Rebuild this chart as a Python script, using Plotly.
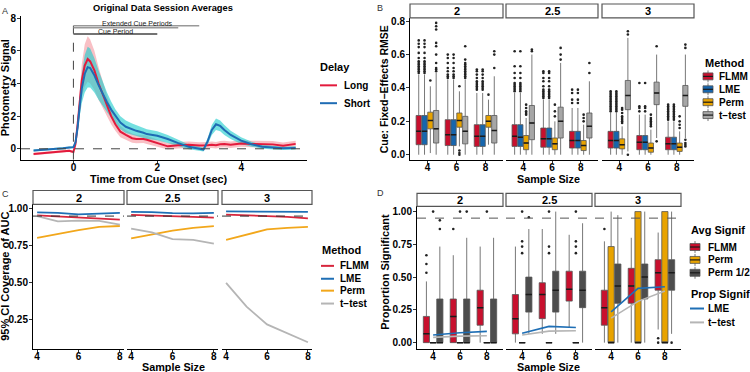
import plotly.graph_objects as go

W, H = 750, 372
FONT = "Liberation Sans, Arial, Helvetica, sans-serif"

# ---------------- Panel A data ----------------
time_s = [-0.95, -0.75, -0.5, -0.25, -0.1, 0.0, 0.05, 0.1, 0.15, 0.2, 0.27, 0.34, 0.4, 0.5, 0.6,
          0.7, 0.8, 0.9, 1.0, 1.12, 1.25, 1.4, 1.5, 1.67, 1.75, 2.0, 2.25, 2.5, 2.75, 3.0,
          3.1, 3.2, 3.3, 3.4, 3.5, 3.6, 3.75, 4.0, 4.25, 4.5, 4.75, 5.0, 5.3]
long_mean = [-0.32, -0.27, -0.18, -0.12, -0.12, -0.2, 0.3, 1.5, 3.0, 4.2, 5.1, 5.5, 5.35, 4.8, 4.0,
             3.3, 2.6, 2.0, 1.5, 1.05, 0.85, 0.65, 0.6, 0.6, 0.55, 0.35, 0.15, 0.22, 0.25, 0.2,
             0.2, 0.22, 0.25, 0.22, 0.28, 0.3, 0.25, 0.32, 0.3, 0.28, 0.27, 0.18, 0.3]
long_se = [0.08, 0.08, 0.07, 0.07, 0.07, 0.07, 0.15, 0.4, 0.7, 1.0, 1.3, 1.4, 1.35, 1.2, 1.0,
           0.8, 0.65, 0.5, 0.4, 0.35, 0.3, 0.28, 0.26, 0.25, 0.25, 0.22, 0.2, 0.2, 0.2, 0.2,
           0.2, 0.2, 0.2, 0.2, 0.2, 0.2, 0.2, 0.2, 0.2, 0.2, 0.2, 0.2, 0.2]
short_mean = [-0.1, -0.07, -0.02, 0.03, 0.08, 0.1, 0.4, 1.3, 2.6, 3.7, 4.6, 5.0, 4.95, 4.5, 3.9,
              3.35, 2.85, 2.4, 2.0, 1.6, 1.35, 1.2, 1.1, 0.98, 0.9, 0.8, 0.6, 0.35, 0.12, 0.0,
              -0.05, 0.45, 1.15, 1.5, 1.4, 1.15, 0.85, 0.5, 0.28, 0.13, 0.08, 0.03, 0.05]
short_se = [0.06, 0.06, 0.06, 0.06, 0.06, 0.06, 0.15, 0.35, 0.6, 0.9, 1.15, 1.25, 1.2, 1.05, 0.9,
            0.75, 0.6, 0.5, 0.42, 0.4, 0.38, 0.35, 0.35, 0.32, 0.3, 0.28, 0.25, 0.2, 0.15, 0.12,
            0.12, 0.2, 0.3, 0.35, 0.33, 0.3, 0.25, 0.2, 0.15, 0.12, 0.1, 0.1, 0.1]
cue_period = [0.0, 2.0]
extended_periods = [[0.0, 3.0], [0.0, 2.5]]

# ---------------- shared ----------------
delays = ["2", "2.5", "3"]
sample_sizes = [4, 6, 8]
cov_sizes = [4, 5, 6, 7, 8]

# ---------------- Panel B data: (lower whisker, q1, median, q3, upper whisker) ----------------
rmse_flmm = {
    "2": [(0.0, 0.06, 0.14, 0.235, 0.48), (0.0, 0.055, 0.12, 0.21, 0.45), (0.0, 0.05, 0.11, 0.18, 0.37)],
    "2.5": [(0.0, 0.05, 0.11, 0.18, 0.37), (0.0, 0.045, 0.095, 0.16, 0.33), (0.0, 0.04, 0.085, 0.14, 0.28)],
    "3": [(0.0, 0.04, 0.085, 0.14, 0.25), (0.0, 0.03, 0.075, 0.115, 0.24), (0.0, 0.03, 0.065, 0.105, 0.2)],
}
rmse_lme = {
    "2": [(0.0, 0.06, 0.14, 0.235, 0.48), (0.0, 0.055, 0.12, 0.21, 0.45), (0.0, 0.05, 0.11, 0.18, 0.37)],
    "2.5": [(0.0, 0.05, 0.105, 0.18, 0.37), (0.0, 0.045, 0.095, 0.16, 0.33), (0.0, 0.04, 0.085, 0.14, 0.28)],
    "3": [(0.0, 0.04, 0.085, 0.14, 0.25), (0.0, 0.03, 0.075, 0.115, 0.24), (0.0, 0.03, 0.065, 0.105, 0.2)],
}
rmse_perm = {
    "2": [(0.01, 0.155, 0.205, 0.255, 0.41), (0.05, 0.165, 0.205, 0.25, 0.38), (0.06, 0.165, 0.2, 0.235, 0.33)],
    "2.5": [(0.0, 0.03, 0.07, 0.115, 0.22), (0.0, 0.03, 0.065, 0.1, 0.2), (0.0, 0.025, 0.055, 0.085, 0.18)],
    "3": [(0.0, 0.035, 0.06, 0.095, 0.17), (0.0, 0.015, 0.04, 0.07, 0.15), (0.0, 0.02, 0.045, 0.07, 0.14)],
}
rmse_ttest = {
    "2": [(0.0, 0.07, 0.155, 0.265, 0.49), (0.0, 0.065, 0.14, 0.23, 0.45), (0.0, 0.07, 0.145, 0.235, 0.47)],
    "2.5": [(0.0, 0.09, 0.19, 0.295, 0.6), (0.0, 0.1, 0.2, 0.285, 0.55), (0.0, 0.1, 0.17, 0.25, 0.44)],
    "3": [(0.02, 0.27, 0.355, 0.445, 0.7), (0.1, 0.3, 0.37, 0.435, 0.6), (0.1, 0.29, 0.355, 0.415, 0.6)],
}
rmse_out_flmm = {
    "2": [[0.49, 0.5, 0.51, 0.52, 0.53, 0.54, 0.55, 0.56, 0.58, 0.61, 0.645, 0.665, 0.685],
          [0.46, 0.47, 0.48, 0.5, 0.52, 0.55, 0.58, 0.6],
          [0.39, 0.4, 0.41, 0.42, 0.43, 0.44, 0.46, 0.48, 0.5, 0.51]],
    "2.5": [[0.38, 0.39, 0.4, 0.41, 0.42, 0.43, 0.46, 0.49, 0.53, 0.62],
            [0.34, 0.35, 0.36, 0.37, 0.38, 0.39, 0.41, 0.44, 0.46, 0.49, 0.5],
            [0.31, 0.33, 0.37, 0.39]],
    "3": [[0.26, 0.27, 0.28, 0.29, 0.3, 0.31, 0.32, 0.33, 0.34, 0.35, 0.36, 0.37, 0.38],
          [0.26, 0.28, 0.29, 0.43],
          [0.21, 0.22, 0.23, 0.24, 0.25, 0.26, 0.27, 0.28, 0.29, 0.3]],
}
rmse_out_lme = {
    "2": [[0.49, 0.5, 0.51, 0.52, 0.53, 0.54, 0.55, 0.56, 0.58, 0.61, 0.645, 0.665, 0.685],
          [0.46, 0.47, 0.48, 0.5, 0.52, 0.55, 0.58, 0.6],
          [0.39, 0.4, 0.41, 0.42, 0.43, 0.44, 0.46, 0.48, 0.5, 0.51]],
    "2.5": [[0.38, 0.39, 0.4, 0.41, 0.42, 0.43, 0.46, 0.49, 0.53, 0.62],
            [0.34, 0.35, 0.36, 0.37, 0.38, 0.39, 0.41, 0.44, 0.46, 0.49, 0.5],
            [0.31, 0.33, 0.37, 0.39]],
    "3": [[0.26, 0.27, 0.28, 0.29, 0.3, 0.31, 0.32, 0.33, 0.34, 0.35, 0.36, 0.37, 0.38],
          [0.26, 0.28, 0.29, 0.43],
          [0.21, 0.22, 0.23, 0.24, 0.25, 0.26, 0.27, 0.28, 0.29, 0.3]],
}
rmse_out_perm = {
    "2": [[0.445], [0.0, 0.01, 0.025, 0.41], [0.36]],
    "2.5": [[0.24, 0.25, 0.26, 0.28, 0.3], [0.23, 0.26, 0.3], [0.2, 0.22, 0.24]],
    "3": [[0.19, 0.2, 0.21, 0.22, 0.23, 0.25, 0.27, 0.28],
          [0.17, 0.18, 0.19, 0.2, 0.21, 0.22, 0.24],
          [0.16, 0.18, 0.2, 0.23]],
}
rmse_out_ttest = {
    "2": [[0.5, 0.51, 0.52, 0.55, 0.6, 0.65, 0.67, 0.75, 0.77, 0.79],
          [0.46, 0.47, 0.48, 0.49, 0.5, 0.51, 0.52, 0.53, 0.54, 0.55, 0.57, 0.65],
          [0.52, 0.6, 0.62]],
    "2.5": [[0.62, 0.63], [0.57, 0.6, 0.64], [0.49, 0.55]],
    "3": [[0.0, 0.72, 0.74], [0.08, 0.65], [0.05, 0.06, 0.07, 0.09, 0.64, 0.66]],
}

# ---------------- Panel C data ----------------
cov_flmm = {"2": [0.955, 0.948, 0.94, 0.935, 0.926], "2.5": [0.958, 0.952, 0.948, 0.945, 0.94],
            "3": [0.96, 0.955, 0.95, 0.945, 0.935]}
cov_lme = {"2": [0.975, 0.972, 0.962, 0.968, 0.972], "2.5": [0.978, 0.977, 0.97, 0.968, 0.972],
           "3": [0.982, 0.98, 0.983, 0.977, 0.978]}
cov_perm = {"2": [0.803, 0.83, 0.855, 0.877, 0.883], "2.5": [0.8, 0.828, 0.852, 0.87, 0.883],
            "3": [0.79, 0.825, 0.86, 0.87, 0.877]}
cov_ttest = {"2": [0.95, 0.915, 0.92, 0.918, 0.893], "2.5": [0.866, 0.84, 0.795, 0.79, 0.765],
             "3": [0.5, 0.34, 0.22, 0.16, 0.1]}
nominal = 0.95

# ---------------- Panel D data ----------------
sig_flmm = {
    "2": [(0, 0, 0.067, 0.2, 0.467), (0, 0, 0.2, 0.333, 0.667), (0, 0.133, 0.267, 0.4, 0.733)],
    "2.5": [(0, 0.067, 0.183, 0.367, 0.733), (0.067, 0.183, 0.367, 0.457, 0.867), (0.117, 0.317, 0.407, 0.545, 0.823)],
    "3": [(0, 0.133, 0.267, 0.4, 0.773), (0, 0.3, 0.433, 0.567, 0.8), (0.1, 0.4, 0.533, 0.633, 0.84)],
}
sig_perm = {
    "2": [(0, 0, 0, 0, 0), (0, 0, 0, 0, 0), (0, 0, 0, 0, 0)],
    "2.5": [(0, 0, 0, 0, 0), (0, 0, 0, 0, 0), (0, 0, 0, 0, 0)],
    "3": [(0, 0, 0, 0.733, 1.0), (0, 0, 0, 1.0, 1.0), (0, 0, 0, 1.0, 1.0)],
}
sig_perm_half = {
    "2": [(0, 0, 0, 0.333, 0.733), (0, 0, 0, 0.333, 0.8), (0, 0, 0, 0.333, 0.8)],
    "2.5": [(0.067, 0.233, 0.367, 0.5, 0.867), (0.067, 0.233, 0.4, 0.545, 1.0), (0, 0.267, 0.4, 0.545, 0.911)],
    "3": [(0, 0.3, 0.433, 0.6, 0.973), (0, 0.333, 0.5, 0.6, 1.0), (0.067, 0.4, 0.533, 0.633, 1.0)],
}
sig_out_flmm = {"2": [[0.533, 0.6, 0.667], [0.867], []], "2.5": [[], [], []], "3": [[0.867], [], [0.0, 0.033]]}
sig_out_perm = {"2": [[1.0], [1.0], [1.0]],
                "2.5": [[0.683, 0.733, 0.773, 1.0], [0.683, 0.733, 1.0], [0.683, 0.733, 0.773, 1.0]],
                "3": [[], [], []]}
sig_out_perm_half = {"2": [[0.867, 0.933], [1.0], []], "2.5": [[0.957], [], []], "3": [[], [], [0.0]]}
prop_lme = {"2": [0.058, 0.075, 0.086], "2.5": [0.071, 0.124, 0.116], "3": [0.235, 0.414, 0.427]}
prop_ttest = {"2": [0.04, 0.05, 0.053], "2.5": [0.058, 0.088, 0.091], "3": [0.187, 0.315, 0.394]}

# ---------------- styling ----------------
C_FLMM, C_LME, C_PERM, C_TT, C_HALF = "#C8102E", "#1666AE", "#E8A300", "#A6A6A6", "#4D4D4D"
L_FLMM, L_LME, L_PERM, L_TT = "#D7263D", "#1F6FB5", "#F2A71B", "#B5B5B5"
BOX_LINE = "#555555"
LEG = 10


def px(p):
    return p / W


def py(p):
    return 1 - p / H


fig = go.Figure()
layout = dict(width=W, height=H, margin=dict(l=0, r=0, t=0, b=0), paper_bgcolor="white",
              plot_bgcolor="white", showlegend=False, font=dict(family=FONT, color="black"))
shapes, annos = [], []


def ax_names(i):
    return ("xaxis" if i == 1 else f"xaxis{i}", "yaxis" if i == 1 else f"yaxis{i}",
            "x" if i == 1 else f"x{i}", "y" if i == 1 else f"y{i}")


TICKFONT = dict(family=FONT, size=10, color="black", weight="bold")


def make_axes(i, xd, yd, xr, yr, xt, xtt, yt, ytt, show_y=True):
    xa, ya, xr_, yr_ = ax_names(i)
    layout[xa] = dict(domain=[px(xd[0]), px(xd[1])], anchor=yr_, range=xr, tickvals=xt, ticktext=xtt,
                      showline=True, linecolor="black", linewidth=1, ticks="outside", ticklen=3,
                      tickcolor="#333", tickwidth=1, showgrid=False, zeroline=False, tickfont=TICKFONT,
                      ticklabelstandoff=-5)
    layout[ya] = dict(domain=[py(yd[1]), py(yd[0])], anchor=xr_, range=yr, tickvals=yt, ticktext=ytt,
                      showline=show_y, linecolor="black", linewidth=1,
                      ticks="outside" if show_y else "", ticklen=3, tickcolor="#333", tickwidth=1,
                      showticklabels=show_y, showgrid=False, zeroline=False, tickfont=TICKFONT,
                      ticklabelstandoff=-1)
    return xr_, yr_


def text(x, y, s, size=10.5, bold=True, xanchor="center", yanchor="middle", angle=0, color="black"):
    annos.append(dict(x=px(x), y=py(y), xref="paper", yref="paper", text=s, showarrow=False,
                      xanchor=xanchor, yanchor=yanchor, textangle=angle,
                      font=dict(family=FONT, size=size, color=color, weight="bold" if bold else "normal")))


def strip(x0, x1, y0, y1, label):
    shapes.append(dict(type="rect", xref="paper", yref="paper", x0=px(x0), x1=px(x1), y0=py(y1), y1=py(y0),
                       fillcolor="white", line=dict(color="#555", width=1.2), layer="above"))
    text((x0 + x1) / 2, (y0 + y1) / 2 + 0.5, label, size=11)


# ================= Panel A =================
xa, ya = make_axes(1, (21, 307), (13, 158), [-1.25, 5.57], [-0.67, 8.14], [0, 2, 4], ["0", "2", "4"],
                   [0, 2, 4, 6, 8], ["0", "2", "4", "6", "8"])
for mean, se, fill in [(long_mean, long_se, "rgba(244,130,140,0.5)"), (short_mean, short_se, "rgba(30,205,205,0.62)")]:
    fig.add_trace(go.Scatter(x=time_s, y=[m + s for m, s in zip(mean, se)], mode="lines", line=dict(width=0),
                             xaxis=xa, yaxis=ya, hoverinfo="skip"))
    fig.add_trace(go.Scatter(x=time_s, y=[m - s for m, s in zip(mean, se)], mode="lines", line=dict(width=0),
                             fill="tonexty", fillcolor=fill, xaxis=xa, yaxis=ya, hoverinfo="skip"))
fig.add_trace(go.Scatter(x=time_s, y=long_mean, mode="lines", line=dict(color="#E31A3C", width=2),
                         xaxis=xa, yaxis=ya, name="Long"))
fig.add_trace(go.Scatter(x=time_s, y=short_mean, mode="lines", line=dict(color="#1F6CB4", width=2),
                         xaxis=xa, yaxis=ya, name="Short"))
shapes.append(dict(type="line", xref="x domain", yref="y", x0=0, x1=1, y0=0, y1=0,
                   line=dict(color="#444", width=1, dash="dash")))
shapes.append(dict(type="line", xref="x", yref="y", x0=0, x1=0, y0=-0.67, y1=7.54,
                   line=dict(color="#444", width=1, dash="dash")))
for (a, b), yv in zip(extended_periods, [7.54, 7.42]):
    shapes.append(dict(type="line", xref="x", yref="y", x0=a, x1=b, y0=yv, y1=yv,
                       line=dict(color="#999", width=1.5)))
shapes.append(dict(type="line", xref="x", yref="y", x0=cue_period[0], x1=cue_period[1], y0=7.03, y1=7.03,
                   line=dict(color="#444", width=1.3)))
annos.append(dict(x=1.52, y=7.68, xref="x", yref="y", text="Extended Cue Periods", showarrow=False,
                  font=dict(family=FONT, size=7, color="#222")))
annos.append(dict(x=1.0, y=7.17, xref="x", yref="y", text="Cue Period", showarrow=False,
                  font=dict(family=FONT, size=7, color="#222")))
text(163, 5.5, "Original Data Session Averages", size=9.3)
text(159, 177, "Time from Cue Onset (sec)", size=10.8)
text(5, 86, "Photometry Signal", size=11, angle=-90)
text(5, 8, "A", size=9, bold=False, color="#333")
# legend A
text(318, 65, "Delay", size=11, xanchor="left")
for yy, lab, col in [(83, "Long", "#E31A3C"), (101, "Short", "#1F6CB4")]:
    shapes.append(dict(type="line", xref="paper", yref="paper", x0=px(320), x1=px(337), y0=py(yy), y1=py(yy),
                       line=dict(color=col, width=2)))
    text(342, yy, lab, size=LEG, xanchor="left")


# ================= helpers for boxes =================
def add_boxes(xr, yr, stats, outs, offset, width, color):
    xs = [k + 1 + offset for k in range(len(stats))]
    lo = [s[0] for s in stats]
    q1 = [s[1] for s in stats]
    med = [s[2] for s in stats]
    q3 = [s[3] for s in stats]
    hi = [s[4] for s in stats]
    fig.add_trace(go.Box(x=xs, q1=q1, median=med, q3=q3, lowerfence=lo, upperfence=hi, width=width,
                         fillcolor=color, line=dict(color=BOX_LINE, width=0.8), whiskerwidth=0,
                         boxpoints=False, orientation="v", xaxis=xr, yaxis=yr, hoverinfo="skip"))
    fig.add_trace(go.Box(x=xs, q1=med, median=med, q3=med, lowerfence=med, upperfence=med, width=width,
                         fillcolor=color, line=dict(color="#1a1a1a", width=1.5), whiskerwidth=0,
                         boxpoints=False, orientation="v", xaxis=xr, yaxis=yr, hoverinfo="skip"))
    ox, oy = [], []
    for k, pts in enumerate(outs):
        for p in pts:
            ox.append(xs[k])
            oy.append(p)
    if ox:
        fig.add_trace(go.Scatter(x=ox, y=oy, mode="markers", marker=dict(size=2.6, color="#222"),
                                 xaxis=xr, yaxis=yr, hoverinfo="skip"))


# ================= Panel B =================
B_X = [(410, 503), (506, 598), (602, 694)]
b_methods = [(rmse_flmm, rmse_out_flmm, C_FLMM), (rmse_lme, rmse_out_lme, C_LME),
             (rmse_perm, rmse_out_perm, C_PERM), (rmse_ttest, rmse_out_ttest, C_TT)]
b_offsets = [-0.3, -0.1, 0.1, 0.3]
for j, d in enumerate(delays):
    xr, yr = make_axes(2 + j, B_X[j], (15, 158), [0.4, 3.6], [-0.03, 0.82], [1, 2, 3],
                       [str(s) for s in sample_sizes], [0, 0.2, 0.4, 0.6, 0.8],
                       ["0.0", "0.2", "0.4", "0.6", "0.8"], show_y=(j == 0))
    for (st, ou, col), off in zip(b_methods, b_offsets):
        add_boxes(xr, yr, st[d], ou[d], off, 0.18, col)
    strip(B_X[j][0], B_X[j][1], 1, 15, d)
text(548, 177, "Sample Size", size=10.8)
text(384, 87, "Cue: Fixed\u2212Effects RMSE", size=10.5, angle=-90)
text(380, 5, "B", size=9, bold=False, color="#333")


def box_key(x0, yc, color):
    shapes.append(dict(type="line", xref="paper", yref="paper", x0=px(x0 + 5), x1=px(x0 + 5),
                       y0=py(yc + 6), y1=py(yc - 6), line=dict(color=BOX_LINE, width=0.8)))
    shapes.append(dict(type="rect", xref="paper", yref="paper", x0=px(x0), x1=px(x0 + 10),
                       y0=py(yc + 3.5), y1=py(yc - 3.5), fillcolor=color, line=dict(color=BOX_LINE, width=0.8)))
    shapes.append(dict(type="line", xref="paper", yref="paper", x0=px(x0), x1=px(x0 + 10),
                       y0=py(yc), y1=py(yc), line=dict(color="#1a1a1a", width=1.2)))


def line_key(x0, x1, yc, color):
    shapes.append(dict(type="line", xref="paper", yref="paper", x0=px(x0), x1=px(x1), y0=py(yc), y1=py(yc),
                       line=dict(color=color, width=2)))


text(703, 60, "Method", size=11, xanchor="left")
for yy, lab, col in [(74, "FLMM", C_FLMM), (87, "LME", C_LME), (100, "Perm", C_PERM), (113, "t\u2212test", C_TT)]:
    box_key(703, yy, col)
    text(717, yy, lab, size=LEG, xanchor="left")

# ================= Panel C =================
C_X = [(33, 124), (127, 218), (222, 312)]
c_methods = [(cov_flmm, L_FLMM), (cov_lme, L_LME), (cov_perm, L_PERM), (cov_ttest, L_TT)]
for j, d in enumerate(delays):
    xr, yr = make_axes(5 + j, C_X[j], (203, 349), [3.8, 8.2], [0.053, 1.029], [4, 6, 8], ["4", "6", "8"],
                       [0.25, 0.5, 0.75, 1.0], ["0.25", "0.50", "0.75", "1.00"], show_y=(j == 0))
    for vals, col in c_methods:
        fig.add_trace(go.Scatter(x=cov_sizes, y=vals[d], mode="lines", line=dict(color=col, width=1.8),
                                 xaxis=xr, yaxis=yr, hoverinfo="skip"))
    shapes.append(dict(type="line", xref=f"{xr} domain", yref=yr, x0=0, x1=1, y0=nominal, y1=nominal,
                       line=dict(color="#333", width=1, dash="dash")))
    strip(C_X[j][0], C_X[j][1], 189, 203, d)
text(173, 366.5, "Sample Size", size=10.8)
text(5, 276, "95% CI Coverage of AUC", size=11, angle=-90)
text(5, 193, "C", size=9, bold=False, color="#333")
text(320, 249, "Method", size=11, xanchor="left")
for yy, lab, col in [(265, "FLMM", L_FLMM), (278, "LME", L_LME), (290, "Perm", L_PERM), (303, "t\u2212test", L_TT)]:
    line_key(321, 334, yy, col)
    text(338, yy, lab, size=LEG, xanchor="left")

# ================= Panel D =================
D_X = [(417, 503), (506, 592), (595, 681)]
d_methods = [(sig_flmm, sig_out_flmm, C_FLMM), (sig_perm, sig_out_perm, C_PERM),
             (sig_perm_half, sig_out_perm_half, C_HALF)]
d_offsets = [-0.25, 0.0, 0.25]
for j, d in enumerate(delays):
    xr, yr = make_axes(8 + j, D_X[j], (205, 349), [0.4, 3.6], [-0.05, 1.04], [1, 2, 3],
                       [str(s) for s in sample_sizes], [0, 0.25, 0.5, 0.75, 1.0],
                       ["0.00", "0.25", "0.50", "0.75", "1.00"], show_y=(j == 0))
    for (st, ou, col), off in zip(d_methods, d_offsets):
        add_boxes(xr, yr, st[d], ou[d], off, 0.23, col)
    for vals, col in [(prop_ttest, L_TT), (prop_lme, L_LME)]:
        fig.add_trace(go.Scatter(x=[1, 2, 3], y=vals[d], mode="lines", line=dict(color=col, width=1.6),
                                 xaxis=xr, yaxis=yr, hoverinfo="skip"))
    shapes.append(dict(type="line", xref=f"{xr} domain", yref=yr, x0=0, x1=1, y0=nominal, y1=nominal,
                       line=dict(color="#555", width=1, dash="dash")))
    strip(D_X[j][0], D_X[j][1], 192, 205, d)
text(548, 366.5, "Sample Size", size=10.8)
text(385, 271, "Proportion Significant", size=11, angle=-90)
text(380, 192, "D", size=9, bold=False, color="#333")
text(689, 229, "Avg Signif", size=11, xanchor="left")
for yy, lab, col in [(246, "FLMM", C_FLMM), (259, "Perm", C_PERM), (272, "Perm 1/2", C_HALF)]:
    box_key(690, yy, col)
    text(706, yy, lab, size=LEG, xanchor="left")
text(689, 293, "Prop Signif", size=11, xanchor="left")
for yy, lab, col in [(308, "LME", L_LME), (322, "t\u2212test", L_TT)]:
    line_key(690, 704, yy, col)
    text(706, yy, lab, size=LEG, xanchor="left")

layout["shapes"] = shapes
layout["annotations"] = annos
fig.update_layout(**layout)
fig.write_html("out.html", config={"displayModeBar": False},
               post_script="document.body.style.margin='0';document.body.style.overflow='hidden';")
